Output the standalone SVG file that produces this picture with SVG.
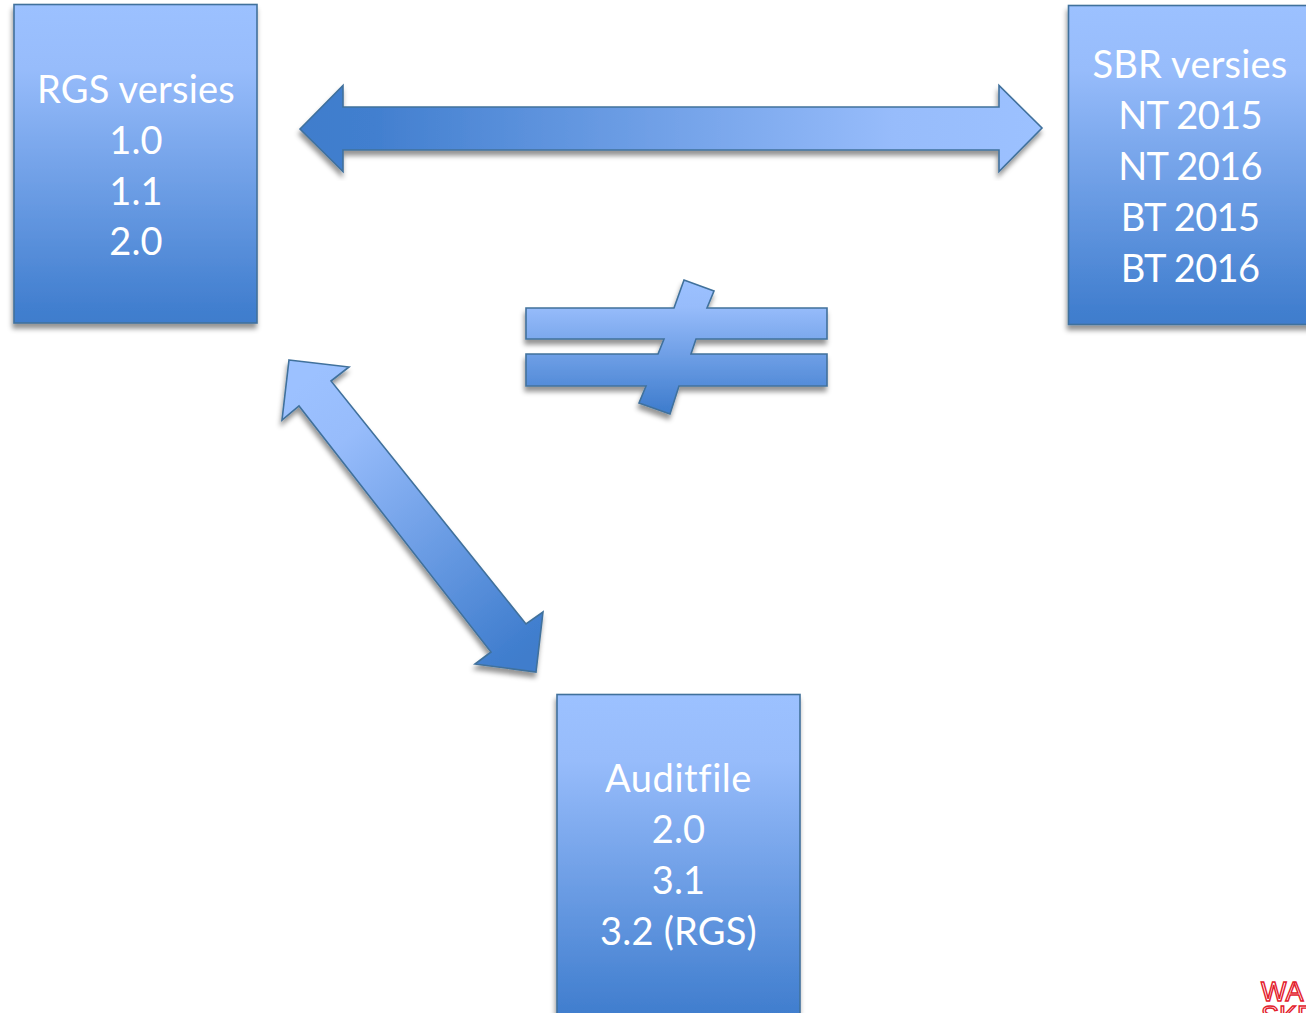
<svg xmlns="http://www.w3.org/2000/svg" width="1306" height="1013" viewBox="0 0 1306 1013">
<style>
.shape{stroke:#41719c;stroke-width:1.6;stroke-linejoin:miter;filter:url(#sh)}
.box{fill:url(#gv)}
.t{font-family:Lato,"Open Sans","Liberation Sans",sans-serif;font-size:38px;letter-spacing:.2px;font-variant-ligatures:none;fill:#fff;text-anchor:middle}
.n{letter-spacing:-.65px}
.w{letter-spacing:.55px}
.logo{font-family:"Liberation Sans",Arial,sans-serif;font-size:27px;fill:none;stroke:#e3202c;stroke-width:1.4}
</style>
<defs>
<linearGradient id="gv" x1="0" y1="0" x2="0" y2="1"><stop offset="0" stop-color="#9cc1ff"/><stop offset="0.2" stop-color="#97bcfb"/><stop offset="0.95" stop-color="#427fcf"/><stop offset="1" stop-color="#3f7dcc"/></linearGradient>
<linearGradient id="gh" gradientUnits="userSpaceOnUse" x1="300" y1="0" x2="1042" y2="0"><stop offset="0" stop-color="#3f7dcc"/><stop offset="0.1" stop-color="#427fcf"/><stop offset="0.8" stop-color="#97bcfb"/><stop offset="1" stop-color="#9cc1ff"/></linearGradient>
<linearGradient id="gd" gradientUnits="userSpaceOnUse" x1="300" y1="385" x2="525" y2="655"><stop offset="0" stop-color="#9cc1ff"/><stop offset="0.2" stop-color="#97bcfb"/><stop offset="0.95" stop-color="#427fcf"/><stop offset="1" stop-color="#3f7dcc"/></linearGradient>
<filter id="sh" x="-10%" y="-10%" width="120%" height="120%"><feDropShadow dx="-1" dy="5" stdDeviation="2.800" flood-color="#000" flood-opacity="0.42"/></filter>
</defs>
<rect width="1306" height="1013" fill="#fff"/>
<g id="connectors">
<polygon class="shape" fill="url(#gh)" points="300,129 343,85.500 343,107 999,107 999,85.500 1042,128 999,171.500 999,150 343,150 343,171.500"/>
<polygon class="shape" fill="url(#gd)" points="289,360 349,367 331,381 526,624 543,612 536,672 475,664 491,652 299,406 282,420"/>
</g>
<g id="not-equal">
<polygon class="shape box" points="526,308 674,308 684,280 714,291 707,308 827,308 827,339 696,339 691,354 827,354 827,386 679,386 670,414 639,403 646,386 526,386 526,354 658,354 664,339 526,339"/>
</g>
<g id="rgs">
<rect class="shape box" x="14" y="4.5" width="243" height="318.500"/>
<text class="t" x="136" y="103">RGS versies</text>
<text class="t" x="136" y="154">1.0</text>
<text class="t" x="136" y="205">1.1</text>
<text class="t" x="136" y="255">2.0</text>
</g>
<g id="sbr">
<rect class="shape box" x="1068.500" y="5.500" width="243" height="319"/>
<text class="t" x="1190" y="78">SBR versies</text>
<text class="t n" x="1190" y="129">NT 2015</text>
<text class="t n" x="1190" y="180">NT 2016</text>
<text class="t n" x="1190" y="231">BT 2015</text>
<text class="t n" x="1190" y="282">BT 2016</text>
</g>
<g id="auditfile">
<rect class="shape box" x="557" y="694.500" width="243" height="330"/>
<text class="t w" x="678.500" y="792">Auditfile</text>
<text class="t" x="678.500" y="843">2.0</text>
<text class="t" x="678.500" y="894">3.1</text>
<text class="t" x="678.500" y="945">3.2 (RGS)</text>
</g>
<g id="logo">
<text class="logo" x="1261" y="1001">WA</text>
<text class="logo" x="1261" y="1025">SKE</text>
</g>
</svg>
